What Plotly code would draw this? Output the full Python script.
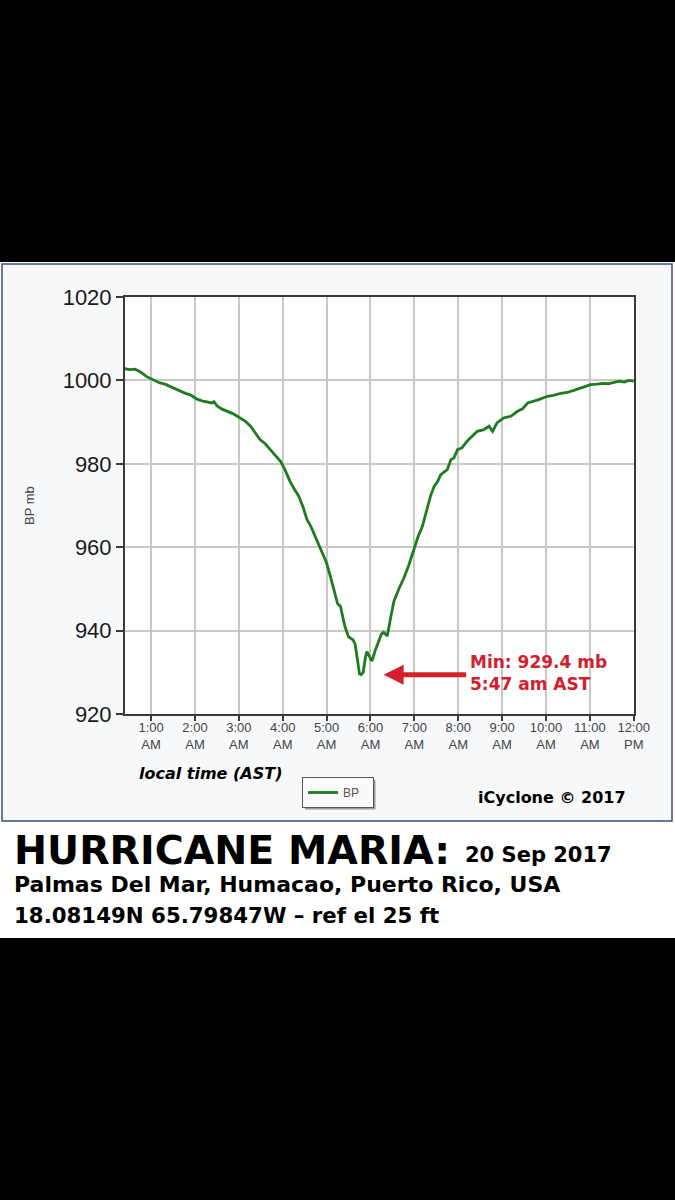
import plotly.graph_objects as go

# ---------------- data ----------------
TIMES = [
    "00:24", "00:31", "00:38", "00:45", "00:54", "01:03", "01:12", "01:19", "01:26",
    "01:33", "01:40", "01:47", "01:53", "02:03", "02:11", "02:17", "02:23", "02:26",
    "02:30", "02:37", "02:44", "02:51", "02:58", "03:09", "03:16", "03:22", "03:29",
    "03:36", "03:43", "03:50", "03:57", "04:03", "04:10", "04:16", "04:22", "04:28",
    "04:33", "04:39", "04:44", "04:49", "04:54", "05:00", "05:05", "05:10", "05:15",
    "05:19", "05:25", "05:30", "05:36", "05:39", "05:42", "05:45", "05:47", "05:50",
    "05:53", "05:55", "05:58", "06:02", "06:07", "06:11", "06:15", "06:18", "06:23",
    "06:28", "06:32", "06:40", "06:45", "06:52", "06:59", "07:05", "07:11", "07:16",
    "07:22", "07:27", "07:32", "07:36", "07:41", "07:45", "07:50", "07:54", "07:59",
    "08:05", "08:12", "08:19", "08:26", "08:35", "08:42", "08:47", "08:53", "09:02",
    "09:12", "09:21", "09:28", "09:35", "09:42", "09:50", "10:02", "10:10", "10:20",
    "10:29", "10:38", "10:45", "10:53", "11:01", "11:10", "11:18", "11:25", "11:33",
    "11:40", "11:47", "11:53", "12:00",
]
BP = [
    1002.8, 1002.6, 1002.7, 1002.1, 1000.9, 1000.1, 999.4, 999.1, 998.5,
    998.0, 997.3, 996.9, 996.6, 995.5, 995.0, 994.8, 994.6, 994.9,
    993.9, 993.1, 992.6, 992.1, 991.4, 990.2, 989.0, 987.6, 985.8,
    984.8, 983.4, 982.1, 980.6, 978.6, 975.8, 973.9, 972.2, 969.5,
    966.7, 964.8, 962.7, 960.7, 958.7, 956.2, 953.1, 949.5, 946.5,
    945.8, 941.0, 938.5, 937.8, 936.8, 933.0, 929.6, 929.4, 930.0,
    933.5, 935.0, 934.0, 932.7, 935.5, 937.5, 939.2, 939.6, 938.7,
    943.5, 947.0, 950.5, 952.3, 955.5, 959.5, 962.5, 965.0, 968.2,
    972.2, 974.6, 975.8, 977.4, 978.0, 978.6, 981.0, 981.4, 983.4,
    983.8, 985.4, 986.6, 987.8, 988.2, 989.0, 987.8, 989.8, 991.0,
    991.4, 992.6, 993.2, 994.6, 994.9, 995.4, 996.2, 996.4, 996.9,
    997.1, 997.6, 998.0, 998.6, 999.0, 999.1, 999.3, 999.2, 999.6,
    999.8, 999.6, 1000.0, 999.8,
]
DAY = "2017-09-20 "
TICK_TIMES = ["01:00", "02:00", "03:00", "04:00", "05:00", "06:00", "07:00",
              "08:00", "09:00", "10:00", "11:00", "12:00"]
TICK_LABELS = ["1:00<br>AM", "2:00<br>AM", "3:00<br>AM", "4:00<br>AM", "5:00<br>AM",
               "6:00<br>AM", "7:00<br>AM", "8:00<br>AM", "9:00<br>AM", "10:00<br>AM",
               "11:00<br>AM", "12:00<br>PM"]
Y_TICKS = [920, 940, 960, 980, 1000, 1020]
MIN_VALUE = 929.4
MIN_TIME = "5:47 am AST"

# ---------------- layout helpers (pixel -> paper) ----------------
W, H = 675, 1200
L, R, T, B = 125, 634, 297, 714


def px(x):
    return (x - L) / (R - L)


def py(y):
    return (B - y) / (B - T)


FONT = "Liberation Sans, Arial, sans-serif"
WIDE = "DejaVu Sans, Verdana, sans-serif"
GREEN = "#1e7b1e"
RED = "#d3202c"

fig = go.Figure()
fig.add_trace(go.Scatter(
    x=[DAY + t for t in TIMES], y=BP, mode="lines", name="BP",
    line=dict(color=GREEN, width=2.8),
))

shapes = [
    dict(type="rect", xref="paper", yref="paper", x0=px(0), x1=px(675),
         y0=py(938), y1=py(262), fillcolor="white", line=dict(width=0), layer="below"),
    dict(type="rect", xref="paper", yref="paper", x0=px(2), x1=px(672),
         y0=py(821), y1=py(264), fillcolor="#f7f8fa",
         line=dict(color="#3b4f78", width=1.5), layer="below"),
    dict(type="rect", xref="paper", yref="paper", x0=0, x1=1, y0=0, y1=1,
         fillcolor="white", line=dict(width=0), layer="below"),
    # legend shadow
    dict(type="rect", xref="paper", yref="paper", x0=px(305), x1=px(375.5),
         y0=py(809.5), y1=py(780), fillcolor="#9a9a9a", line=dict(width=0), layer="below"),
]


def note(text, x, y, size, family=WIDE, color="#000", xanchor="center", **kw):
    return dict(text=text, x=px(x), y=py(y), xref="paper", yref="paper",
                xanchor=xanchor, yanchor="middle", showarrow=False,
                font=dict(family=family, size=size, color=color), **kw)


annotations = [
    note("BP mb", 29, 506, 13, family=FONT, color="#444", textangle=-90),
    note("<b><i>local time (AST)</i></b>", 210, 773, 16),
    note("<b>iCyclone © 2017</b>", 552, 797, 16),
    note(f"<b>Min: {MIN_VALUE} mb<br>{MIN_TIME}</b>", 468, 673, 17, color=RED,
         xanchor="left", align="left"),
    dict(text="", x=DAY + "06:18", y=MIN_VALUE, xref="x", yref="y",
         ax=84, ay=0, showarrow=True, arrowhead=2, arrowsize=0.8, arrowwidth=5,
         arrowcolor=RED, standoff=0, startstandoff=0),
    note("<b>HURRICANE MARIA:</b>", 12, 850, 39.5, xanchor="left"),
    note("<b>20 Sep 2017</b>", 463, 855, 21, xanchor="left"),
    note("<b>Palmas Del Mar, Humacao, Puerto Rico, USA</b>", 12, 884, 22, xanchor="left"),
    note("<b>18.08149N 65.79847W – ref el 25 ft</b>", 12, 915, 21.3, xanchor="left"),
]

fig.update_layout(
    width=W, height=H,
    margin=dict(l=L, r=W - R, t=T, b=H - B, pad=0),
    paper_bgcolor="black", plot_bgcolor="white",
    shapes=shapes, annotations=annotations,
    showlegend=True,
    legend=dict(x=px(302), y=py(777), xanchor="left", yanchor="top",
                orientation="h", entrywidth=25,
                bgcolor="#fafafa", bordercolor="#555", borderwidth=1,
                font=dict(family=FONT, size=12, color="#555")),
    xaxis=dict(
        range=[DAY + "00:24:20", DAY + "12:00:20"],
        tickmode="array", tickvals=[DAY + t for t in TICK_TIMES], ticktext=TICK_LABELS,
        showgrid=True, gridcolor="#c8c8c8", gridwidth=1.5,
        showline=True, linecolor="#3a3a3a", linewidth=2, mirror=True,
        ticks="outside", ticklen=5, tickcolor="#3a3a3a", tickwidth=1.5,
        tickfont=dict(family=FONT, size=13, color="#444"), zeroline=False,
        ticklabelstandoff=-5,
    ),
    yaxis=dict(
        range=[920, 1020], tickmode="array", tickvals=Y_TICKS,
        showgrid=True, gridcolor="#c8c8c8", gridwidth=1.5,
        showline=True, linecolor="#3a3a3a", linewidth=2, mirror=True,
        ticks="outside", ticklen=7, tickcolor="#3a3a3a", tickwidth=1.5,
        tickfont=dict(family=FONT, size=22, color="#1a1a1a"), zeroline=False,
        ticklabelstandoff=0,
    ),
)

fig.write_html("out.html")
